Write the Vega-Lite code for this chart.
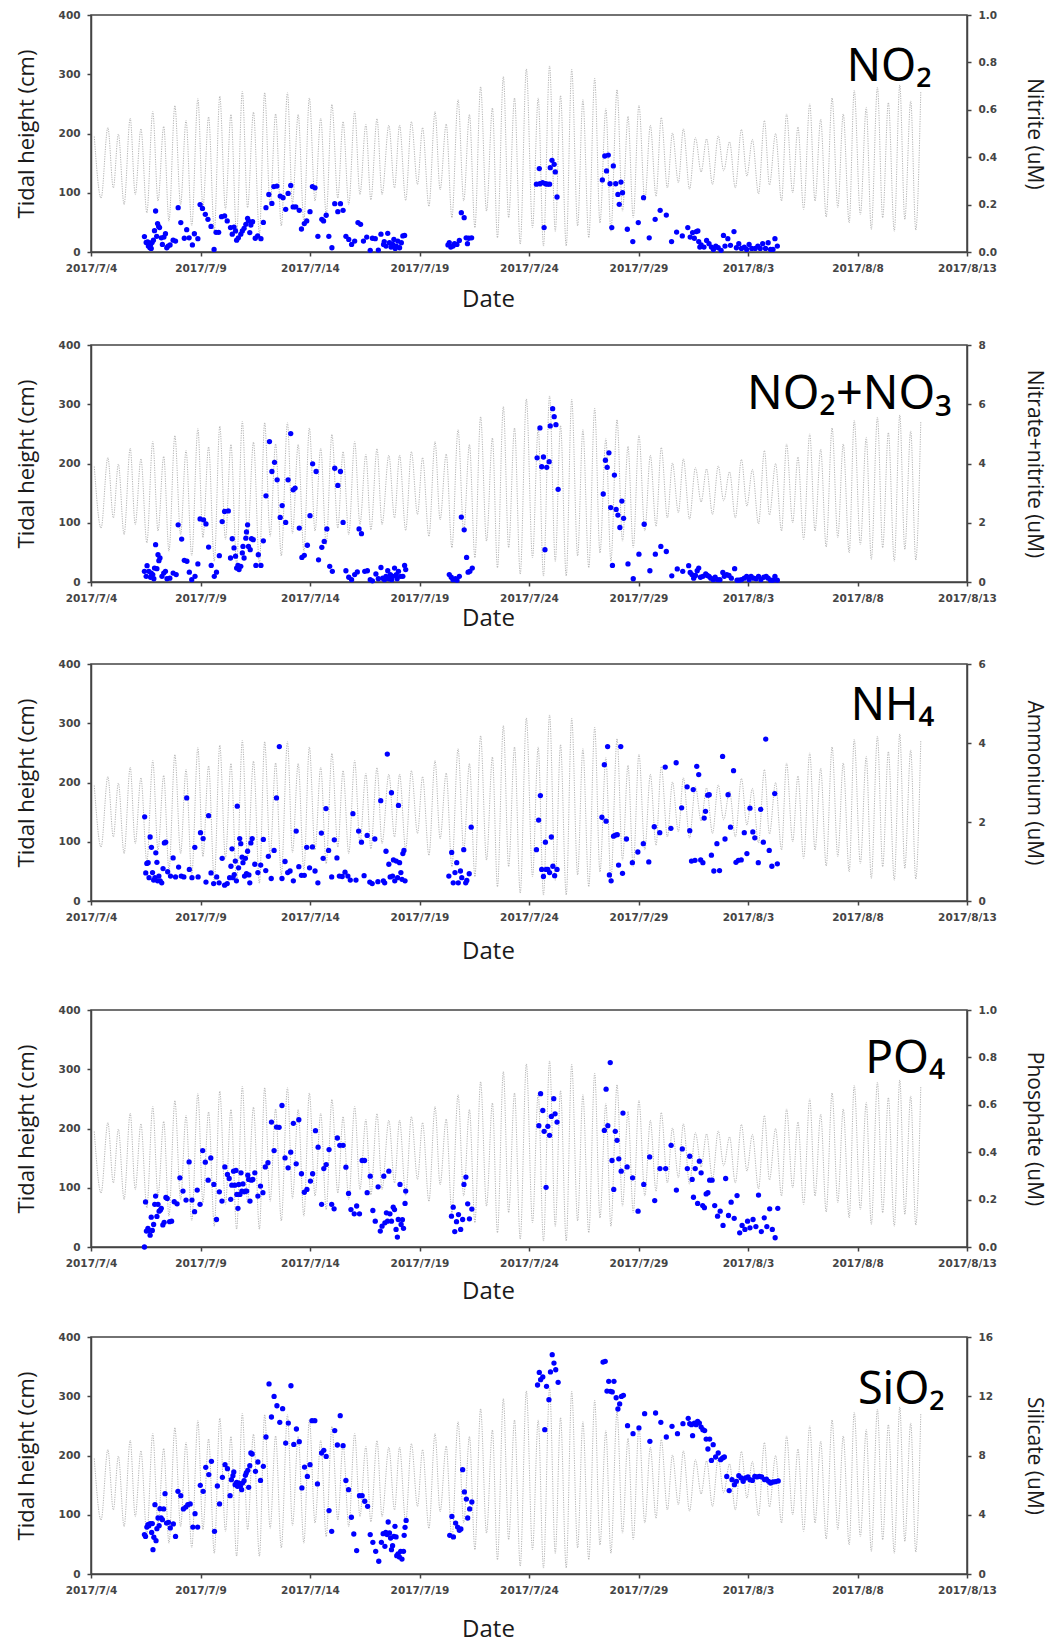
{
"$schema":"https://vega.github.io/schema/vega-lite/v6.json",
"padding":{"left":14,"top":9,"right":10,"bottom":0},
"spacing":27,
"datasets":{
"tide":[{"day":0.15,"height":195},{"day":0.46,"height":91},{"day":0.77,"height":210},{"day":1.02,"height":108},{"day":1.25,"height":199},{"day":1.51,"height":80},{"day":1.79,"height":226},{"day":2.02,"height":97},{"day":2.28,"height":208},{"day":2.55,"height":66},{"day":2.82,"height":237},{"day":3.06,"height":86},{"day":3.32,"height":212},{"day":3.56,"height":52},{"day":3.83,"height":247},{"day":4.09,"height":80},{"day":4.34,"height":222},{"day":4.6,"height":44},{"day":4.88,"height":259},{"day":5.11,"height":75},{"day":5.37,"height":228},{"day":5.63,"height":35},{"day":5.88,"height":263},{"day":6.14,"height":72},{"day":6.39,"height":232},{"day":6.65,"height":30},{"day":6.91,"height":271},{"day":7.15,"height":75},{"day":7.42,"height":236},{"day":7.69,"height":30},{"day":7.93,"height":269},{"day":8.18,"height":77},{"day":8.43,"height":233},{"day":8.69,"height":44},{"day":8.97,"height":269},{"day":9.2,"height":82},{"day":9.46,"height":232},{"day":9.72,"height":52},{"day":9.97,"height":260},{"day":10.23,"height":86},{"day":10.49,"height":226},{"day":10.74,"height":63},{"day":11.0,"height":249},{"day":11.27,"height":91},{"day":11.51,"height":220},{"day":11.77,"height":80},{"day":12.04,"height":237},{"day":12.28,"height":97},{"day":12.55,"height":215},{"day":12.78,"height":88},{"day":13.06,"height":225},{"day":13.29,"height":97},{"day":13.6,"height":214},{"day":13.86,"height":108},{"day":14.09,"height":214},{"day":14.37,"height":87},{"day":14.63,"height":220},{"day":14.91,"height":114},{"day":15.14,"height":210},{"day":15.43,"height":77},{"day":15.71,"height":237},{"day":15.94,"height":105},{"day":16.22,"height":216},{"day":16.48,"height":58},{"day":16.76,"height":257},{"day":17.02,"height":86},{"day":17.28,"height":232},{"day":17.53,"height":41},{"day":17.79,"height":279},{"day":18.06,"height":69},{"day":18.33,"height":243},{"day":18.56,"height":24},{"day":18.83,"height":296},{"day":19.07,"height":58},{"day":19.34,"height":260},{"day":19.6,"height":13},{"day":19.88,"height":309},{"day":20.16,"height":41},{"day":20.42,"height":260},{"day":20.66,"height":10},{"day":20.94,"height":314},{"day":21.2,"height":35},{"day":21.44,"height":264},{"day":21.7,"height":10},{"day":21.95,"height":308},{"day":22.22,"height":44},{"day":22.46,"height":257},{"day":22.73,"height":24},{"day":23.0,"height":293},{"day":23.24,"height":49},{"day":23.51,"height":242},{"day":23.74,"height":35},{"day":24.02,"height":274},{"day":24.27,"height":69},{"day":24.52,"height":229},{"day":24.76,"height":58},{"day":25.02,"height":248},{"day":25.29,"height":86},{"day":25.54,"height":214},{"day":25.8,"height":94},{"day":26.04,"height":227},{"day":26.32,"height":108},{"day":26.55,"height":201},{"day":26.82,"height":117},{"day":27.05,"height":208},{"day":27.33,"height":106},{"day":27.6,"height":193},{"day":27.86,"height":135},{"day":28.11,"height":191},{"day":28.38,"height":114},{"day":28.64,"height":196},{"day":28.89,"height":137},{"day":29.16,"height":186},{"day":29.42,"height":108},{"day":29.7,"height":207},{"day":29.95,"height":128},{"day":30.2,"height":190},{"day":30.48,"height":98},{"day":30.75,"height":222},{"day":30.98,"height":113},{"day":31.26,"height":200},{"day":31.53,"height":86},{"day":31.76,"height":233},{"day":32.04,"height":100},{"day":32.28,"height":211},{"day":32.54,"height":72},{"day":32.82,"height":250},{"day":33.06,"height":86},{"day":33.32,"height":224},{"day":33.57,"height":59},{"day":33.84,"height":260},{"day":34.1,"height":75},{"day":34.35,"height":233},{"day":34.62,"height":49},{"day":34.85,"height":273},{"day":35.13,"height":63},{"day":35.4,"height":244},{"day":35.63,"height":38},{"day":35.91,"height":278},{"day":36.15,"height":58},{"day":36.41,"height":252},{"day":36.68,"height":35},{"day":36.93,"height":282},{"day":37.16,"height":55},{"day":37.43,"height":255},{"day":37.66,"height":37},{"day":37.89,"height":271}],
"no2":[{"day":2.44,"conc":0.065},{"day":2.52,"conc":0.04},{"day":2.59,"conc":0.043},{"day":2.62,"conc":0.025},{"day":2.69,"conc":0.018},{"day":2.72,"conc":0.032},{"day":2.75,"conc":0.015},{"day":2.79,"conc":0.04},{"day":2.85,"conc":0.05},{"day":2.9,"conc":0.09},{"day":2.95,"conc":0.173},{"day":3.0,"conc":0.066},{"day":3.04,"conc":0.12},{"day":3.09,"conc":0.108},{"day":3.13,"conc":0.103},{"day":3.21,"conc":0.06},{"day":3.26,"conc":0.032},{"day":3.33,"conc":0.063},{"day":3.4,"conc":0.077},{"day":3.46,"conc":0.018},{"day":3.52,"conc":0.025},{"day":3.61,"conc":0.03},{"day":3.75,"conc":0.05},{"day":3.86,"conc":0.046},{"day":3.98,"conc":0.187},{"day":4.1,"conc":0.124},{"day":4.26,"conc":0.058},{"day":4.37,"conc":0.094},{"day":4.48,"conc":0.06},{"day":4.63,"conc":0.03},{"day":4.72,"conc":0.077},{"day":4.88,"conc":0.056},{"day":4.98,"conc":0.2},{"day":5.09,"conc":0.184},{"day":5.22,"conc":0.159},{"day":5.34,"conc":0.138},{"day":5.48,"conc":0.108},{"day":5.62,"conc":0.011},{"day":5.71,"conc":0.083},{"day":5.83,"conc":0.083},{"day":5.96,"conc":0.149},{"day":6.1,"conc":0.152},{"day":6.22,"conc":0.131},{"day":6.37,"conc":0.103},{"day":6.45,"conc":0.075},{"day":6.53,"conc":0.105},{"day":6.6,"conc":0.089},{"day":6.65,"conc":0.05},{"day":6.73,"conc":0.06},{"day":6.84,"conc":0.075},{"day":6.91,"conc":0.089},{"day":6.99,"conc":0.1},{"day":7.07,"conc":0.117},{"day":7.15,"conc":0.142},{"day":7.19,"conc":0.131},{"day":7.25,"conc":0.082},{"day":7.3,"conc":0.114},{"day":7.38,"conc":0.128},{"day":7.5,"conc":0.058},{"day":7.61,"conc":0.068},{"day":7.76,"conc":0.056},{"day":7.87,"conc":0.125},{"day":7.99,"conc":0.187},{"day":8.12,"conc":0.243},{"day":8.26,"conc":0.205},{"day":8.35,"conc":0.276},{"day":8.49,"conc":0.278},{"day":8.64,"conc":0.236},{"day":8.77,"conc":0.229},{"day":8.89,"conc":0.18},{"day":9.0,"conc":0.247},{"day":9.12,"conc":0.281},{"day":9.23,"conc":0.19},{"day":9.35,"conc":0.19},{"day":9.51,"conc":0.176},{"day":9.61,"conc":0.097},{"day":9.74,"conc":0.12},{"day":9.85,"conc":0.131},{"day":10.0,"conc":0.17},{"day":10.11,"conc":0.276},{"day":10.23,"conc":0.271},{"day":10.36,"conc":0.066},{"day":10.54,"conc":0.138},{"day":10.62,"conc":0.131},{"day":10.74,"conc":0.155},{"day":10.86,"conc":0.066},{"day":11.0,"conc":0.018},{"day":11.13,"conc":0.204},{"day":11.27,"conc":0.17},{"day":11.39,"conc":0.204},{"day":11.51,"conc":0.176},{"day":11.64,"conc":0.066},{"day":11.77,"conc":0.053},{"day":11.9,"conc":0.032},{"day":12.04,"conc":0.046},{"day":12.19,"conc":0.124},{"day":12.31,"conc":0.117},{"day":12.44,"conc":0.046},{"day":12.59,"conc":0.063},{"day":12.75,"conc":0.007},{"day":12.85,"conc":0.058},{"day":12.98,"conc":0.056},{"day":13.12,"conc":0.008},{"day":13.24,"conc":0.075},{"day":13.36,"conc":0.032},{"day":13.39,"conc":0.044},{"day":13.47,"conc":0.025},{"day":13.55,"conc":0.079},{"day":13.63,"conc":0.039},{"day":13.7,"conc":0.021},{"day":13.78,"conc":0.032},{"day":13.83,"conc":0.053},{"day":13.89,"conc":0.015},{"day":13.94,"conc":0.025},{"day":14.01,"conc":0.046},{"day":14.09,"conc":0.018},{"day":14.17,"conc":0.039},{"day":14.24,"conc":0.068},{"day":14.32,"conc":0.07},{"day":16.3,"conc":0.03},{"day":16.36,"conc":0.039},{"day":16.43,"conc":0.021},{"day":16.53,"conc":0.025},{"day":16.6,"conc":0.035},{"day":16.71,"conc":0.032},{"day":16.82,"conc":0.049},{"day":16.91,"conc":0.166},{"day":17.04,"conc":0.145},{"day":17.13,"conc":0.06},{"day":17.19,"conc":0.035},{"day":17.25,"conc":0.058},{"day":17.38,"conc":0.06},{"day":20.34,"conc":0.286},{"day":20.47,"conc":0.352},{"day":20.5,"conc":0.288},{"day":20.62,"conc":0.293},{"day":20.69,"conc":0.103},{"day":20.75,"conc":0.288},{"day":20.84,"conc":0.286},{"day":20.94,"conc":0.286},{"day":20.97,"conc":0.356},{"day":21.05,"conc":0.387},{"day":21.15,"conc":0.37},{"day":21.2,"conc":0.338},{"day":21.28,"conc":0.232},{"day":23.35,"conc":0.304},{"day":23.46,"conc":0.405},{"day":23.54,"conc":0.342},{"day":23.62,"conc":0.409},{"day":23.7,"conc":0.288},{"day":23.78,"conc":0.103},{"day":23.85,"conc":0.363},{"day":23.96,"conc":0.288},{"day":24.06,"conc":0.243},{"day":24.12,"conc":0.201},{"day":24.2,"conc":0.295},{"day":24.27,"conc":0.25},{"day":24.49,"conc":0.096},{"day":24.74,"conc":0.044},{"day":24.99,"conc":0.124},{"day":25.23,"conc":0.229},{"day":25.49,"conc":0.06},{"day":25.76,"conc":0.138},{"day":25.99,"conc":0.176},{"day":26.27,"conc":0.156},{"day":26.51,"conc":0.044},{"day":26.74,"conc":0.084},{"day":27.0,"conc":0.068},{"day":27.25,"conc":0.103},{"day":27.36,"conc":0.063},{"day":27.47,"conc":0.082},{"day":27.55,"conc":0.058},{"day":27.64,"conc":0.086},{"day":27.71,"conc":0.089},{"day":27.75,"conc":0.044},{"day":27.8,"conc":0.021},{"day":27.86,"conc":0.03},{"day":27.99,"conc":0.021},{"day":28.11,"conc":0.049},{"day":28.22,"conc":0.035},{"day":28.33,"conc":0.021},{"day":28.42,"conc":0.011},{"day":28.53,"conc":0.025},{"day":28.64,"conc":0.018},{"day":28.77,"conc":0.007},{"day":28.88,"conc":0.07},{"day":28.95,"conc":0.025},{"day":29.08,"conc":0.056},{"day":29.2,"conc":0.028},{"day":29.36,"conc":0.086},{"day":29.47,"conc":0.018},{"day":29.58,"conc":0.035},{"day":29.7,"conc":0.015},{"day":29.83,"conc":0.021},{"day":29.94,"conc":0.011},{"day":30.05,"conc":0.032},{"day":30.17,"conc":0.015},{"day":30.33,"conc":0.015},{"day":30.45,"conc":0.025},{"day":30.56,"conc":0.015},{"day":30.67,"conc":0.035},{"day":30.8,"conc":0.015},{"day":30.92,"conc":0.039},{"day":31.03,"conc":0.011},{"day":31.14,"conc":0.011},{"day":31.23,"conc":0.056},{"day":31.34,"conc":0.025}],
"no23":[{"day":2.44,"conc":0.36},{"day":2.52,"conc":0.19},{"day":2.56,"conc":0.55},{"day":2.64,"conc":0.36},{"day":2.72,"conc":0.16},{"day":2.75,"conc":0.3},{"day":2.82,"conc":0.25},{"day":2.87,"conc":0.11},{"day":2.9,"conc":0.47},{"day":2.95,"conc":1.26},{"day":3.01,"conc":0.45},{"day":3.06,"conc":0.92},{"day":3.1,"conc":0.72},{"day":3.15,"conc":0.81},{"day":3.24,"conc":0.19},{"day":3.32,"conc":0.3},{"day":3.4,"conc":0.36},{"day":3.47,"conc":0.11},{"day":3.6,"conc":0.13},{"day":3.75,"conc":0.3},{"day":3.89,"conc":0.25},{"day":3.98,"conc":1.93},{"day":4.14,"conc":1.45},{"day":4.26,"conc":0.73},{"day":4.38,"conc":0.7},{"day":4.49,"conc":0.33},{"day":4.6,"conc":0.08},{"day":4.75,"conc":0.19},{"day":4.88,"conc":0.61},{"day":4.98,"conc":2.13},{"day":5.14,"conc":2.1},{"day":5.25,"conc":1.96},{"day":5.37,"conc":1.18},{"day":5.49,"conc":0.56},{"day":5.63,"conc":0.19},{"day":5.73,"conc":0.33},{"day":5.86,"conc":0.89},{"day":5.99,"conc":2.04},{"day":6.1,"conc":2.38},{"day":6.27,"conc":2.4},{"day":6.37,"conc":0.81},{"day":6.45,"conc":1.46},{"day":6.53,"conc":1.15},{"day":6.6,"conc":0.87},{"day":6.65,"conc":0.47},{"day":6.71,"conc":0.56},{"day":6.76,"conc":0.42},{"day":6.84,"conc":0.53},{"day":6.91,"conc":0.98},{"day":6.94,"conc":1.2},{"day":6.99,"conc":0.81},{"day":7.07,"conc":1.48},{"day":7.1,"conc":1.69},{"day":7.15,"conc":1.93},{"day":7.19,"conc":1.2},{"day":7.27,"conc":1.09},{"day":7.33,"conc":1.46},{"day":7.41,"conc":1.43},{"day":7.53,"conc":0.56},{"day":7.64,"conc":0.92},{"day":7.76,"conc":0.56},{"day":7.87,"conc":1.39},{"day":7.99,"conc":2.91},{"day":8.15,"conc":4.74},{"day":8.26,"conc":3.73},{"day":8.38,"conc":4.04},{"day":8.5,"conc":3.45},{"day":8.64,"conc":2.18},{"day":8.73,"conc":2.58},{"day":8.89,"conc":2.01},{"day":9.0,"conc":3.45},{"day":9.12,"conc":5.01},{"day":9.23,"conc":3.11},{"day":9.32,"conc":3.17},{"day":9.51,"conc":1.82},{"day":9.63,"conc":0.83},{"day":9.74,"conc":0.9},{"day":9.88,"conc":1.24},{"day":10.0,"conc":2.24},{"day":10.12,"conc":3.99},{"day":10.28,"conc":3.73},{"day":10.39,"conc":0.75},{"day":10.54,"conc":1.17},{"day":10.65,"conc":1.37},{"day":10.77,"conc":1.79},{"day":10.9,"conc":0.53},{"day":11.02,"conc":0.36},{"day":11.13,"conc":3.84},{"day":11.27,"conc":3.26},{"day":11.39,"conc":3.73},{"day":11.51,"conc":2.01},{"day":11.64,"conc":0.38},{"day":11.77,"conc":0.16},{"day":11.9,"conc":0.08},{"day":12.04,"conc":0.25},{"day":12.16,"conc":0.34},{"day":12.24,"conc":1.79},{"day":12.35,"conc":1.63},{"day":12.5,"conc":0.36},{"day":12.62,"conc":0.38},{"day":12.75,"conc":0.08},{"day":12.85,"conc":0.04},{"day":13.01,"conc":0.27},{"day":13.12,"conc":0.11},{"day":13.24,"conc":0.49},{"day":13.32,"conc":0.13},{"day":13.4,"conc":0.08},{"day":13.47,"conc":0.19},{"day":13.55,"conc":0.38},{"day":13.6,"conc":0.11},{"day":13.67,"conc":0.25},{"day":13.73,"conc":0.08},{"day":13.78,"conc":0.19},{"day":13.86,"conc":0.47},{"day":13.94,"conc":0.25},{"day":13.98,"conc":0.11},{"day":14.04,"conc":0.36},{"day":14.14,"conc":0.19},{"day":14.24,"conc":0.19},{"day":14.32,"conc":0.56},{"day":14.37,"conc":0.42},{"day":16.36,"conc":0.25},{"day":16.45,"conc":0.16},{"day":16.53,"conc":0.08},{"day":16.64,"conc":0.11},{"day":16.71,"conc":0.06},{"day":16.82,"conc":0.19},{"day":16.91,"conc":2.19},{"day":17.04,"conc":1.76},{"day":17.15,"conc":0.83},{"day":17.22,"conc":0.33},{"day":17.3,"conc":0.36},{"day":17.41,"conc":0.47},{"day":20.37,"conc":4.19},{"day":20.5,"conc":5.2},{"day":20.58,"conc":3.89},{"day":20.66,"conc":4.22},{"day":20.73,"conc":1.09},{"day":20.81,"conc":3.87},{"day":20.92,"conc":4.06},{"day":20.97,"conc":5.27},{"day":21.08,"conc":5.85},{"day":21.15,"conc":5.58},{"day":21.23,"conc":5.31},{"day":21.33,"conc":3.13},{"day":23.39,"conc":2.97},{"day":23.49,"conc":4.11},{"day":23.57,"conc":3.87},{"day":23.65,"conc":4.36},{"day":23.73,"conc":2.51},{"day":23.81,"conc":0.56},{"day":23.9,"conc":3.61},{"day":23.98,"conc":2.45},{"day":24.06,"conc":2.26},{"day":24.15,"conc":1.84},{"day":24.24,"conc":2.73},{"day":24.32,"conc":2.15},{"day":24.52,"conc":0.61},{"day":24.76,"conc":0.11},{"day":25.02,"conc":0.94},{"day":25.26,"conc":1.95},{"day":25.52,"conc":0.38},{"day":25.77,"conc":0.94},{"day":26.02,"conc":1.2},{"day":26.27,"conc":1.03},{"day":26.52,"conc":0.21},{"day":26.77,"conc":0.44},{"day":27.02,"conc":0.36},{"day":27.29,"conc":0.55},{"day":27.36,"conc":0.32},{"day":27.44,"conc":0.25},{"day":27.52,"conc":0.13},{"day":27.6,"conc":0.22},{"day":27.68,"conc":0.38},{"day":27.75,"conc":0.47},{"day":27.83,"conc":0.16},{"day":27.94,"conc":0.19},{"day":28.07,"conc":0.27},{"day":28.14,"conc":0.22},{"day":28.22,"conc":0.19},{"day":28.3,"conc":0.13},{"day":28.41,"conc":0.08},{"day":28.5,"conc":0.16},{"day":28.61,"conc":0.08},{"day":28.72,"conc":0.08},{"day":28.85,"conc":0.32},{"day":28.92,"conc":0.19},{"day":29.03,"conc":0.25},{"day":29.13,"conc":0.22},{"day":29.24,"conc":0.13},{"day":29.39,"conc":0.45},{"day":29.5,"conc":0.06},{"day":29.59,"conc":0.06},{"day":29.7,"conc":0.08},{"day":29.83,"conc":0.13},{"day":29.94,"conc":0.19},{"day":30.05,"conc":0.08},{"day":30.14,"conc":0.19},{"day":30.25,"conc":0.13},{"day":30.37,"conc":0.11},{"day":30.48,"conc":0.19},{"day":30.59,"conc":0.08},{"day":30.72,"conc":0.16},{"day":30.83,"conc":0.19},{"day":30.92,"conc":0.13},{"day":31.03,"conc":0.06},{"day":31.14,"conc":0.06},{"day":31.23,"conc":0.19},{"day":31.34,"conc":0.06}],
"nh4":[{"day":2.45,"conc":2.13},{"day":2.5,"conc":0.71},{"day":2.55,"conc":0.95},{"day":2.61,"conc":0.97},{"day":2.65,"conc":0.59},{"day":2.7,"conc":1.62},{"day":2.76,"conc":1.36},{"day":2.81,"conc":0.72},{"day":2.86,"conc":0.53},{"day":2.92,"conc":0.59},{"day":2.96,"conc":1.22},{"day":3.01,"conc":0.98},{"day":3.04,"conc":0.51},{"day":3.1,"conc":0.63},{"day":3.16,"conc":0.51},{"day":3.23,"conc":0.46},{"day":3.29,"conc":0.82},{"day":3.35,"conc":1.47},{"day":3.41,"conc":1.49},{"day":3.5,"conc":0.74},{"day":3.63,"conc":0.63},{"day":3.75,"conc":1.09},{"day":3.86,"conc":0.61},{"day":4.0,"conc":0.86},{"day":4.12,"conc":0.63},{"day":4.24,"conc":0.61},{"day":4.37,"conc":2.61},{"day":4.49,"conc":0.8},{"day":4.61,"conc":0.59},{"day":4.74,"conc":1.36},{"day":4.89,"conc":0.61},{"day":5.0,"conc":1.73},{"day":5.12,"conc":1.58},{"day":5.25,"conc":0.48},{"day":5.37,"conc":2.16},{"day":5.48,"conc":0.71},{"day":5.6,"conc":0.44},{"day":5.74,"conc":0.61},{"day":5.85,"conc":0.46},{"day":5.99,"conc":1.08},{"day":6.1,"conc":0.4},{"day":6.22,"conc":0.44},{"day":6.33,"conc":0.59},{"day":6.39,"conc":0.88},{"day":6.44,"conc":1.32},{"day":6.48,"conc":0.59},{"day":6.54,"conc":0.67},{"day":6.59,"conc":1.01},{"day":6.64,"conc":0.51},{"day":6.68,"conc":2.4},{"day":6.74,"conc":0.84},{"day":6.79,"conc":1.58},{"day":6.84,"conc":1.45},{"day":6.9,"conc":1.11},{"day":6.94,"conc":0.97},{"day":7.01,"conc":0.63},{"day":7.05,"conc":1.08},{"day":7.1,"conc":0.69},{"day":7.15,"conc":1.26},{"day":7.21,"conc":0.66},{"day":7.25,"conc":0.46},{"day":7.3,"conc":1.47},{"day":7.36,"conc":1.58},{"day":7.48,"conc":0.93},{"day":7.62,"conc":0.72},{"day":7.75,"conc":0.91},{"day":7.87,"conc":1.56},{"day":7.98,"conc":0.77},{"day":8.1,"conc":1.13},{"day":8.23,"conc":0.57},{"day":8.36,"conc":1.28},{"day":8.47,"conc":2.61},{"day":8.6,"conc":3.91},{"day":8.72,"conc":0.57},{"day":8.86,"conc":1.0},{"day":8.98,"conc":0.72},{"day":9.09,"conc":0.76},{"day":9.24,"conc":0.51},{"day":9.37,"conc":1.77},{"day":9.49,"conc":0.87},{"day":9.61,"conc":0.65},{"day":9.74,"conc":0.65},{"day":9.85,"conc":1.36},{"day":9.98,"conc":0.84},{"day":10.11,"conc":1.37},{"day":10.23,"conc":0.76},{"day":10.36,"conc":0.46},{"day":10.52,"conc":1.72},{"day":10.6,"conc":1.08},{"day":10.73,"conc":2.34},{"day":10.85,"conc":1.28},{"day":10.99,"conc":0.61},{"day":11.11,"conc":1.55},{"day":11.23,"conc":1.09},{"day":11.34,"conc":0.63},{"day":11.47,"conc":0.62},{"day":11.6,"conc":0.73},{"day":11.73,"conc":0.63},{"day":11.84,"conc":0.53},{"day":11.96,"conc":2.21},{"day":12.1,"conc":0.53},{"day":12.22,"conc":1.77},{"day":12.35,"conc":1.49},{"day":12.47,"conc":0.64},{"day":12.61,"conc":1.66},{"day":12.73,"conc":0.48},{"day":12.84,"conc":0.44},{"day":12.96,"conc":1.57},{"day":13.1,"conc":0.49},{"day":13.23,"conc":2.54},{"day":13.35,"conc":0.51},{"day":13.41,"conc":0.46},{"day":13.47,"conc":1.26},{"day":13.53,"conc":3.72},{"day":13.6,"conc":0.93},{"day":13.66,"conc":0.61},{"day":13.72,"conc":2.74},{"day":13.77,"conc":0.63},{"day":13.81,"conc":1.04},{"day":13.87,"conc":0.51},{"day":13.94,"conc":1.01},{"day":14.0,"conc":0.59},{"day":14.04,"conc":2.42},{"day":14.09,"conc":0.97},{"day":14.15,"conc":0.72},{"day":14.2,"conc":0.55},{"day":14.24,"conc":1.2},{"day":14.29,"conc":1.28},{"day":14.34,"conc":0.51},{"day":16.34,"conc":0.63},{"day":16.47,"conc":1.23},{"day":16.54,"conc":0.46},{"day":16.62,"conc":0.72},{"day":16.7,"conc":0.97},{"day":16.77,"conc":0.46},{"day":16.87,"conc":0.76},{"day":16.93,"conc":0.59},{"day":17.02,"conc":1.3},{"day":17.11,"conc":0.46},{"day":17.16,"conc":0.52},{"day":17.27,"conc":0.69},{"day":17.36,"conc":1.87},{"day":20.34,"conc":1.3},{"day":20.44,"conc":2.05},{"day":20.52,"conc":2.67},{"day":20.58,"conc":0.8},{"day":20.66,"conc":0.62},{"day":20.75,"conc":1.49},{"day":20.78,"conc":0.8},{"day":20.86,"conc":0.8},{"day":20.94,"conc":0.72},{"day":21.02,"conc":1.62},{"day":21.09,"conc":0.88},{"day":21.17,"conc":0.64},{"day":21.28,"conc":0.8},{"day":23.33,"conc":2.12},{"day":23.44,"conc":3.45},{"day":23.52,"conc":2.02},{"day":23.59,"conc":3.91},{"day":23.67,"conc":0.66},{"day":23.75,"conc":0.51},{"day":23.86,"conc":1.64},{"day":23.95,"conc":1.67},{"day":24.03,"conc":1.68},{"day":24.09,"conc":0.91},{"day":24.19,"conc":3.91},{"day":24.27,"conc":0.7},{"day":24.45,"conc":1.57},{"day":24.72,"conc":0.97},{"day":24.97,"conc":1.24},{"day":25.22,"conc":1.45},{"day":25.47,"conc":0.99},{"day":25.72,"conc":1.88},{"day":25.97,"conc":1.73},{"day":26.22,"conc":3.39},{"day":26.48,"conc":1.84},{"day":26.72,"conc":3.5},{"day":26.97,"conc":2.36},{"day":27.22,"conc":2.89},{"day":27.34,"conc":1.78},{"day":27.42,"conc":1.01},{"day":27.5,"conc":2.82},{"day":27.58,"conc":1.03},{"day":27.66,"conc":3.41},{"day":27.75,"conc":3.2},{"day":27.84,"conc":1.04},{"day":27.94,"conc":0.97},{"day":28.0,"conc":2.1},{"day":28.06,"conc":2.27},{"day":28.16,"conc":2.68},{"day":28.23,"conc":2.69},{"day":28.33,"conc":1.16},{"day":28.44,"conc":0.76},{"day":28.58,"conc":1.45},{"day":28.7,"conc":0.77},{"day":28.84,"conc":3.66},{"day":28.95,"conc":1.57},{"day":29.09,"conc":2.69},{"day":29.2,"conc":1.87},{"day":29.34,"conc":3.3},{"day":29.45,"conc":0.98},{"day":29.56,"conc":1.03},{"day":29.69,"conc":1.04},{"day":29.83,"conc":1.73},{"day":29.95,"conc":1.2},{"day":30.09,"conc":2.35},{"day":30.22,"conc":1.75},{"day":30.31,"conc":1.6},{"day":30.47,"conc":0.97},{"day":30.58,"conc":2.32},{"day":30.7,"conc":1.49},{"day":30.81,"conc":4.1},{"day":30.97,"conc":1.28},{"day":31.09,"conc":0.88},{"day":31.22,"conc":2.72},{"day":31.34,"conc":0.94}],
"po4":[{"day":2.44,"conc":0.0},{"day":2.49,"conc":0.19},{"day":2.53,"conc":0.067},{"day":2.6,"conc":0.079},{"day":2.64,"conc":0.07},{"day":2.7,"conc":0.05},{"day":2.75,"conc":0.126},{"day":2.8,"conc":0.07},{"day":2.86,"conc":0.095},{"day":2.91,"conc":0.18},{"day":2.95,"conc":0.215},{"day":3.01,"conc":0.129},{"day":3.06,"conc":0.18},{"day":3.11,"conc":0.151},{"day":3.17,"conc":0.156},{"day":3.21,"conc":0.163},{"day":3.28,"conc":0.093},{"day":3.34,"conc":0.104},{"day":3.42,"conc":0.209},{"day":3.48,"conc":0.205},{"day":3.59,"conc":0.107},{"day":3.68,"conc":0.109},{"day":3.8,"conc":0.191},{"day":3.93,"conc":0.182},{"day":4.06,"conc":0.292},{"day":4.2,"conc":0.236},{"day":4.34,"conc":0.198},{"day":4.48,"conc":0.359},{"day":4.61,"conc":0.198},{"day":4.73,"conc":0.149},{"day":4.85,"conc":0.24},{"day":4.98,"conc":0.18},{"day":5.1,"conc":0.407},{"day":5.22,"conc":0.358},{"day":5.35,"conc":0.282},{"day":5.47,"conc":0.376},{"day":5.61,"conc":0.264},{"day":5.73,"conc":0.116},{"day":5.86,"conc":0.233},{"day":5.98,"conc":0.194},{"day":6.11,"conc":0.338},{"day":6.23,"conc":0.306},{"day":6.31,"conc":0.289},{"day":6.38,"conc":0.201},{"day":6.43,"conc":0.261},{"day":6.51,"conc":0.32},{"day":6.57,"conc":0.261},{"day":6.62,"conc":0.323},{"day":6.66,"conc":0.222},{"day":6.71,"conc":0.163},{"day":6.75,"conc":0.264},{"day":6.8,"conc":0.222},{"day":6.85,"conc":0.313},{"day":6.89,"conc":0.236},{"day":6.94,"conc":0.266},{"day":7.0,"conc":0.233},{"day":7.05,"conc":0.236},{"day":7.11,"conc":0.236},{"day":7.16,"conc":0.303},{"day":7.2,"conc":0.285},{"day":7.26,"conc":0.194},{"day":7.33,"conc":0.282},{"day":7.39,"conc":0.285},{"day":7.48,"conc":0.313},{"day":7.62,"conc":0.215},{"day":7.74,"conc":0.257},{"day":7.85,"conc":0.229},{"day":7.96,"conc":0.338},{"day":8.08,"conc":0.356},{"day":8.24,"conc":0.527},{"day":8.36,"conc":0.407},{"day":8.47,"conc":0.506},{"day":8.59,"conc":0.505},{"day":8.72,"conc":0.597},{"day":8.86,"conc":0.376},{"day":9.0,"conc":0.334},{"day":9.12,"conc":0.4},{"day":9.24,"conc":0.522},{"day":9.37,"conc":0.351},{"day":9.49,"conc":0.537},{"day":9.61,"conc":0.309},{"day":9.74,"conc":0.231},{"day":9.86,"conc":0.243},{"day":10.02,"conc":0.278},{"day":10.12,"conc":0.309},{"day":10.25,"conc":0.491},{"day":10.37,"conc":0.421},{"day":10.53,"conc":0.18},{"day":10.63,"conc":0.331},{"day":10.74,"conc":0.348},{"day":10.87,"conc":0.411},{"day":10.99,"conc":0.18},{"day":11.1,"conc":0.161},{"day":11.25,"conc":0.46},{"day":11.36,"conc":0.429},{"day":11.51,"conc":0.429},{"day":11.64,"conc":0.337},{"day":11.76,"conc":0.226},{"day":11.87,"conc":0.158},{"day":12.02,"conc":0.14},{"day":12.13,"conc":0.173},{"day":12.26,"conc":0.14},{"day":12.38,"conc":0.365},{"day":12.49,"conc":0.365},{"day":12.61,"conc":0.229},{"day":12.75,"conc":0.299},{"day":12.87,"conc":0.154},{"day":12.98,"conc":0.109},{"day":13.11,"conc":0.254},{"day":13.21,"conc":0.067},{"day":13.29,"conc":0.088},{"day":13.37,"conc":0.299},{"day":13.42,"conc":0.102},{"day":13.49,"conc":0.144},{"day":13.54,"conc":0.109},{"day":13.6,"conc":0.32},{"day":13.65,"conc":0.14},{"day":13.72,"conc":0.109},{"day":13.8,"conc":0.168},{"day":13.86,"conc":0.158},{"day":13.93,"conc":0.074},{"day":13.99,"conc":0.042},{"day":14.03,"conc":0.116},{"day":14.11,"conc":0.264},{"day":14.16,"conc":0.095},{"day":14.22,"conc":0.115},{"day":14.27,"conc":0.079},{"day":14.34,"conc":0.184},{"day":14.37,"conc":0.236},{"day":16.46,"conc":0.13},{"day":16.54,"conc":0.168},{"day":16.61,"conc":0.065},{"day":16.69,"conc":0.107},{"day":16.78,"conc":0.137},{"day":16.88,"conc":0.074},{"day":16.97,"conc":0.116},{"day":17.03,"conc":0.264},{"day":17.12,"conc":0.295},{"day":17.2,"conc":0.182},{"day":17.28,"conc":0.119},{"day":17.39,"conc":0.16},{"day":20.45,"conc":0.512},{"day":20.53,"conc":0.647},{"day":20.63,"conc":0.576},{"day":20.69,"conc":0.488},{"day":20.78,"conc":0.252},{"day":20.86,"conc":0.509},{"day":20.94,"conc":0.471},{"day":21.02,"conc":0.551},{"day":21.13,"conc":0.626},{"day":21.19,"conc":0.562},{"day":21.28,"conc":0.527},{"day":23.44,"conc":0.492},{"day":23.52,"conc":0.666},{"day":23.6,"conc":0.512},{"day":23.71,"conc":0.778},{"day":23.79,"conc":0.365},{"day":23.87,"conc":0.243},{"day":23.94,"conc":0.488},{"day":24.02,"conc":0.45},{"day":24.1,"conc":0.372},{"day":24.21,"conc":0.32},{"day":24.29,"conc":0.565},{"day":24.48,"conc":0.338},{"day":24.73,"conc":0.292},{"day":24.98,"conc":0.151},{"day":25.24,"conc":0.264},{"day":25.51,"conc":0.38},{"day":25.74,"conc":0.196},{"day":25.98,"conc":0.331},{"day":26.24,"conc":0.331},{"day":26.49,"conc":0.429},{"day":26.73,"conc":0.24},{"day":27.0,"conc":0.414},{"day":27.23,"conc":0.331},{"day":27.34,"conc":0.383},{"day":27.45,"conc":0.285},{"day":27.51,"conc":0.21},{"day":27.59,"conc":0.331},{"day":27.7,"conc":0.184},{"day":27.78,"conc":0.362},{"day":27.86,"conc":0.313},{"day":27.93,"conc":0.175},{"day":28.01,"conc":0.166},{"day":28.09,"conc":0.224},{"day":28.17,"conc":0.229},{"day":28.25,"conc":0.282},{"day":28.36,"conc":0.282},{"day":28.48,"conc":0.175},{"day":28.61,"conc":0.13},{"day":28.73,"conc":0.151},{"day":28.86,"conc":0.091},{"day":28.98,"conc":0.289},{"day":29.11,"conc":0.133},{"day":29.23,"conc":0.189},{"day":29.37,"conc":0.121},{"day":29.5,"conc":0.217},{"day":29.62,"conc":0.06},{"day":29.73,"conc":0.091},{"day":29.86,"conc":0.074},{"day":29.98,"conc":0.109},{"day":30.09,"conc":0.081},{"day":30.23,"conc":0.116},{"day":30.36,"conc":0.086},{"day":30.48,"conc":0.219},{"day":30.61,"conc":0.065},{"day":30.74,"conc":0.123},{"day":30.86,"conc":0.086},{"day":30.99,"conc":0.161},{"day":31.11,"conc":0.074},{"day":31.24,"conc":0.039},{"day":31.36,"conc":0.163}],
"sio2":[{"day":2.44,"conc":2.66},{"day":2.49,"conc":2.54},{"day":2.55,"conc":3.17},{"day":2.6,"conc":3.33},{"day":2.64,"conc":3.26},{"day":2.7,"conc":3.4},{"day":2.77,"conc":2.81},{"day":2.8,"conc":3.4},{"day":2.83,"conc":1.64},{"day":2.87,"conc":2.48},{"day":2.92,"conc":4.68},{"day":2.97,"conc":2.25},{"day":3.01,"conc":3.06},{"day":3.06,"conc":3.78},{"day":3.11,"conc":3.26},{"day":3.15,"conc":4.41},{"day":3.2,"conc":3.78},{"day":3.26,"conc":3.67},{"day":3.32,"conc":4.39},{"day":3.38,"conc":5.42},{"day":3.45,"conc":3.44},{"day":3.54,"conc":3.49},{"day":3.62,"conc":3.11},{"day":3.76,"conc":3.38},{"day":3.86,"conc":2.54},{"day":3.97,"conc":5.58},{"day":4.1,"conc":5.29},{"day":4.22,"conc":4.39},{"day":4.33,"conc":4.52},{"day":4.42,"conc":4.68},{"day":4.53,"conc":4.73},{"day":4.65,"conc":3.17},{"day":4.75,"conc":4.07},{"day":4.87,"conc":3.17},{"day":4.99,"conc":5.99},{"day":5.12,"conc":5.58},{"day":5.24,"conc":7.2},{"day":5.38,"conc":6.71},{"day":5.5,"conc":7.61},{"day":5.64,"conc":2.88},{"day":5.77,"conc":5.94},{"day":5.87,"conc":4.73},{"day":6.0,"conc":6.53},{"day":6.12,"conc":7.38},{"day":6.23,"conc":7.11},{"day":6.35,"conc":5.29},{"day":6.41,"conc":6.37},{"day":6.48,"conc":6.64},{"day":6.52,"conc":6.89},{"day":6.58,"conc":6.03},{"day":6.65,"conc":6.19},{"day":6.69,"conc":5.92},{"day":6.75,"conc":6.14},{"day":6.82,"conc":5.92},{"day":6.88,"conc":5.69},{"day":6.92,"conc":6.14},{"day":6.99,"conc":6.3},{"day":7.05,"conc":6.66},{"day":7.09,"conc":6.82},{"day":7.16,"conc":7.0},{"day":7.2,"conc":5.85},{"day":7.25,"conc":7.31},{"day":7.3,"conc":8.17},{"day":7.36,"conc":8.1},{"day":7.51,"conc":6.93},{"day":7.62,"conc":7.56},{"day":7.74,"conc":6.32},{"day":7.87,"conc":7.27},{"day":7.99,"conc":9.25},{"day":8.13,"conc":12.83},{"day":8.24,"conc":10.6},{"day":8.36,"conc":11.99},{"day":8.49,"conc":11.36},{"day":8.62,"conc":10.24},{"day":8.75,"conc":11.16},{"day":8.89,"conc":8.84},{"day":9.01,"conc":10.19},{"day":9.13,"conc":12.71},{"day":9.26,"conc":8.75},{"day":9.38,"conc":9.79},{"day":9.51,"conc":8.93},{"day":9.63,"conc":5.81},{"day":9.75,"conc":7.22},{"day":9.88,"conc":6.59},{"day":10.0,"conc":7.38},{"day":10.09,"conc":10.35},{"day":10.22,"conc":10.35},{"day":10.34,"conc":6.08},{"day":10.53,"conc":8.17},{"day":10.63,"conc":8.35},{"day":10.74,"conc":7.94},{"day":10.87,"conc":4.28},{"day":10.99,"conc":2.88},{"day":11.13,"conc":9.68},{"day":11.25,"conc":8.71},{"day":11.38,"conc":10.69},{"day":11.51,"conc":8.66},{"day":11.64,"conc":6.32},{"day":11.76,"conc":5.69},{"day":11.89,"conc":3.83},{"day":12.0,"conc":2.7},{"day":12.13,"conc":1.58},{"day":12.26,"conc":5.29},{"day":12.38,"conc":5.29},{"day":12.5,"conc":4.91},{"day":12.63,"conc":4.57},{"day":12.75,"conc":2.66},{"day":12.87,"conc":2.14},{"day":13.0,"conc":1.53},{"day":13.14,"conc":0.86},{"day":13.26,"conc":2.14},{"day":13.34,"conc":2.72},{"day":13.42,"conc":1.87},{"day":13.46,"conc":2.81},{"day":13.52,"conc":2.66},{"day":13.57,"conc":3.51},{"day":13.63,"conc":2.77},{"day":13.68,"conc":2.43},{"day":13.72,"conc":1.64},{"day":13.77,"conc":1.91},{"day":13.83,"conc":2.54},{"day":13.88,"conc":3.22},{"day":13.93,"conc":2.5},{"day":13.96,"conc":1.24},{"day":14.02,"conc":1.35},{"day":14.08,"conc":1.15},{"day":14.14,"conc":1.53},{"day":14.2,"conc":1.01},{"day":14.27,"conc":1.53},{"day":14.3,"conc":2.61},{"day":14.34,"conc":3.15},{"day":14.39,"conc":3.62},{"day":16.38,"conc":2.61},{"day":16.48,"conc":3.89},{"day":16.55,"conc":2.5},{"day":16.65,"conc":3.44},{"day":16.74,"conc":3.17},{"day":16.82,"conc":2.95},{"day":16.89,"conc":3.04},{"day":16.97,"conc":7.04},{"day":17.05,"conc":5.54},{"day":17.14,"conc":5.06},{"day":17.2,"conc":3.78},{"day":17.29,"conc":4.39},{"day":17.39,"conc":4.86},{"day":20.39,"conc":12.76},{"day":20.47,"conc":13.61},{"day":20.53,"conc":13.12},{"day":20.63,"conc":13.3},{"day":20.72,"conc":9.74},{"day":20.8,"conc":12.67},{"day":20.91,"conc":11.77},{"day":20.98,"conc":13.64},{"day":21.06,"conc":14.81},{"day":21.14,"conc":14.24},{"day":21.22,"conc":13.79},{"day":21.33,"conc":12.94},{"day":23.38,"conc":14.31},{"day":23.48,"conc":14.36},{"day":23.56,"conc":12.35},{"day":23.64,"conc":13.01},{"day":23.72,"conc":12.33},{"day":23.8,"conc":12.29},{"day":23.88,"conc":13.01},{"day":23.98,"conc":11.9},{"day":24.06,"conc":11.14},{"day":24.14,"conc":11.48},{"day":24.22,"conc":11.99},{"day":24.31,"conc":12.06},{"day":24.5,"conc":10.01},{"day":24.75,"conc":9.47},{"day":25.02,"conc":9.86},{"day":25.28,"conc":10.82},{"day":25.52,"conc":8.96},{"day":25.78,"conc":10.87},{"day":26.02,"conc":10.24},{"day":26.27,"conc":9.25},{"day":26.53,"conc":9.97},{"day":26.78,"conc":9.47},{"day":27.03,"conc":10.15},{"day":27.27,"conc":10.51},{"day":27.34,"conc":10.15},{"day":27.42,"conc":10.08},{"day":27.47,"conc":9.34},{"day":27.55,"conc":10.19},{"day":27.63,"conc":10.08},{"day":27.7,"conc":10.31},{"day":27.78,"conc":10.19},{"day":27.86,"conc":9.92},{"day":27.94,"conc":9.74},{"day":28.02,"conc":9.68},{"day":28.09,"conc":9.11},{"day":28.17,"conc":8.44},{"day":28.25,"conc":9.11},{"day":28.33,"conc":7.67},{"day":28.41,"conc":8.73},{"day":28.52,"conc":7.9},{"day":28.64,"conc":8.17},{"day":28.75,"conc":7.72},{"day":28.84,"conc":7.83},{"day":28.92,"conc":7.9},{"day":29.03,"conc":6.59},{"day":29.14,"conc":5.63},{"day":29.27,"conc":6.37},{"day":29.38,"conc":6.03},{"day":29.47,"conc":6.26},{"day":29.58,"conc":6.64},{"day":29.69,"conc":6.48},{"day":29.78,"conc":6.26},{"day":29.89,"conc":6.48},{"day":30.0,"conc":6.55},{"day":30.09,"conc":6.37},{"day":30.2,"conc":6.32},{"day":30.31,"conc":6.59},{"day":30.41,"conc":6.55},{"day":30.52,"conc":6.59},{"day":30.63,"conc":6.55},{"day":30.75,"conc":6.37},{"day":30.84,"conc":6.41},{"day":30.94,"conc":6.26},{"day":31.03,"conc":6.14},{"day":31.14,"conc":6.21},{"day":31.25,"conc":6.23},{"day":31.38,"conc":6.28}]
},
"vconcat":[
{"width":876,"height":237,
 "layer":[
  {"data":{"name":"tide"},"mark":{"type":"line","interpolate":"monotone","color":"#b4b4b4","strokeWidth":1,"strokeDash":[1.2,1.2]},
   "encoding":{"x":{"field":"day","type":"quantitative","scale":{"domain":[0,40],"nice":false},"axis":{"values":[0,5,10,15,20,25,30,35,40],"labelExpr":"timeFormat(datetime(2017,6,4+datum.value),'%Y/%-m/%-d')","labelFlush":false,"title":"Date","titleX":397,"titleY":47,"titleBaseline":"middle","titleFontSize":24}},
     "y":{"field":"height","type":"quantitative","scale":{"domain":[0,400],"nice":false},"axis":{"values":[0,100,200,300,400],"title":"Tidal height (cm)","titleAngle":270,"titleX":-65,"titleY":118.5,"titleBaseline":"middle","titleAlign":"center","titleFontSize":22}}}},
  {"data":{"name":"no2"},"mark":{"type":"circle","color":"#0000ff","opacity":1,"size":28},
   "encoding":{"x":{"field":"day","type":"quantitative"},
     "y":{"field":"conc","type":"quantitative","scale":{"domain":[0,1],"nice":false},"axis":{"orient":"right","values":[0,0.2,0.4,0.6,0.8,1],"format":".1f","title":"Nitrite (uM)","titleAngle":90,"titleX":66,"titleY":118.5,"titleBaseline":"middle","titleAlign":"center","titleFontSize":21}}}},
  {"data":{"values":[{}]},"mark":{"type":"text","text":"NO₂","align":"right","baseline":"alphabetic","font":"Noto Sans","fontSize":45,"color":"#000000"},
   "encoding":{"x":{"datum":38.4},"y":{"datum":288,"scale":{"domain":[0,400],"nice":false},"axis":null}}}
 ],
 "resolve":{"scale":{"y":"independent"}}},
{"width":876,"height":237,
 "layer":[
  {"data":{"name":"tide"},"mark":{"type":"line","interpolate":"monotone","color":"#b4b4b4","strokeWidth":1,"strokeDash":[1.2,1.2]},
   "encoding":{"x":{"field":"day","type":"quantitative","scale":{"domain":[0,40],"nice":false},"axis":{"values":[0,5,10,15,20,25,30,35,40],"labelExpr":"timeFormat(datetime(2017,6,4+datum.value),'%Y/%-m/%-d')","labelFlush":false,"title":"Date","titleX":397,"titleY":36,"titleBaseline":"middle","titleFontSize":24}},
     "y":{"field":"height","type":"quantitative","scale":{"domain":[0,400],"nice":false},"axis":{"values":[0,100,200,300,400],"title":"Tidal height (cm)","titleAngle":270,"titleX":-65,"titleY":118.5,"titleBaseline":"middle","titleAlign":"center","titleFontSize":22}}}},
  {"data":{"name":"no23"},"mark":{"type":"circle","color":"#0000ff","opacity":1,"size":28},
   "encoding":{"x":{"field":"day","type":"quantitative"},
     "y":{"field":"conc","type":"quantitative","scale":{"domain":[0,8],"nice":false},"axis":{"orient":"right","values":[0,2,4,6,8],"title":"Nitrate+nitrite (uM)","titleAngle":90,"titleX":66,"titleY":118.5,"titleBaseline":"middle","titleAlign":"center","titleFontSize":21}}}},
  {"data":{"values":[{}]},"mark":{"type":"text","text":"NO₂+NO₃","align":"right","baseline":"alphabetic","font":"Noto Sans","fontSize":47,"color":"#000000"},
   "encoding":{"x":{"datum":39.3},"y":{"datum":292,"scale":{"domain":[0,400],"nice":false},"axis":null}}}
 ],
 "resolve":{"scale":{"y":"independent"}}},
{"width":876,"height":237,
 "layer":[
  {"data":{"name":"tide"},"mark":{"type":"line","interpolate":"monotone","color":"#b4b4b4","strokeWidth":1,"strokeDash":[1.2,1.2]},
   "encoding":{"x":{"field":"day","type":"quantitative","scale":{"domain":[0,40],"nice":false},"axis":{"values":[0,5,10,15,20,25,30,35,40],"labelExpr":"timeFormat(datetime(2017,6,4+datum.value),'%Y/%-m/%-d')","labelFlush":false,"title":"Date","titleX":397,"titleY":50,"titleBaseline":"middle","titleFontSize":24}},
     "y":{"field":"height","type":"quantitative","scale":{"domain":[0,400],"nice":false},"axis":{"values":[0,100,200,300,400],"title":"Tidal height (cm)","titleAngle":270,"titleX":-65,"titleY":118.5,"titleBaseline":"middle","titleAlign":"center","titleFontSize":22}}}},
  {"data":{"name":"nh4"},"mark":{"type":"circle","color":"#0000ff","opacity":1,"size":28},
   "encoding":{"x":{"field":"day","type":"quantitative"},
     "y":{"field":"conc","type":"quantitative","scale":{"domain":[0,6],"nice":false},"axis":{"orient":"right","values":[0,2,4,6],"title":"Ammonium (uM)","titleAngle":90,"titleX":66,"titleY":118.5,"titleBaseline":"middle","titleAlign":"center","titleFontSize":21}}}},
  {"data":{"values":[{}]},"mark":{"type":"text","text":"NH₄","align":"right","baseline":"alphabetic","font":"Noto Sans","fontSize":45,"color":"#000000"},
   "encoding":{"x":{"datum":38.5},"y":{"datum":305,"scale":{"domain":[0,400],"nice":false},"axis":null}}}
 ],
 "resolve":{"scale":{"y":"independent"}}},
{"width":876,"height":237,
 "title":{"text":".","fontSize":4,"offset":9,"color":"#ffffff"},
 "layer":[
  {"data":{"name":"tide"},"mark":{"type":"line","interpolate":"monotone","color":"#b4b4b4","strokeWidth":1,"strokeDash":[1.2,1.2]},
   "encoding":{"x":{"field":"day","type":"quantitative","scale":{"domain":[0,40],"nice":false},"axis":{"values":[0,5,10,15,20,25,30,35,40],"labelExpr":"timeFormat(datetime(2017,6,4+datum.value),'%Y/%-m/%-d')","labelFlush":false,"title":"Date","titleX":397,"titleY":44,"titleBaseline":"middle","titleFontSize":24}},
     "y":{"field":"height","type":"quantitative","scale":{"domain":[0,400],"nice":false},"axis":{"values":[0,100,200,300,400],"title":"Tidal height (cm)","titleAngle":270,"titleX":-65,"titleY":118.5,"titleBaseline":"middle","titleAlign":"center","titleFontSize":22}}}},
  {"data":{"name":"po4"},"mark":{"type":"circle","color":"#0000ff","opacity":1,"size":28},
   "encoding":{"x":{"field":"day","type":"quantitative"},
     "y":{"field":"conc","type":"quantitative","scale":{"domain":[0,1],"nice":false},"axis":{"orient":"right","values":[0,0.2,0.4,0.6,0.8,1],"format":".1f","title":"Phosphate (uM)","titleAngle":90,"titleX":66,"titleY":118.5,"titleBaseline":"middle","titleAlign":"center","titleFontSize":21}}}},
  {"data":{"values":[{}]},"mark":{"type":"text","text":"PO₄","align":"right","baseline":"alphabetic","font":"Noto Sans","fontSize":46,"color":"#000000"},
   "encoding":{"x":{"datum":39.0},"y":{"datum":294,"scale":{"domain":[0,400],"nice":false},"axis":null}}}
 ],
 "resolve":{"scale":{"y":"independent"}}},
{"width":876,"height":237,
 "layer":[
  {"data":{"name":"tide"},"mark":{"type":"line","interpolate":"monotone","color":"#b4b4b4","strokeWidth":1,"strokeDash":[1.2,1.2]},
   "encoding":{"x":{"field":"day","type":"quantitative","scale":{"domain":[0,40],"nice":false},"axis":{"values":[0,5,10,15,20,25,30,35,40],"labelExpr":"timeFormat(datetime(2017,6,4+datum.value),'%Y/%-m/%-d')","labelFlush":false,"title":"Date","titleX":397,"titleY":55,"titleBaseline":"middle","titleFontSize":24}},
     "y":{"field":"height","type":"quantitative","scale":{"domain":[0,400],"nice":false},"axis":{"values":[0,100,200,300,400],"title":"Tidal height (cm)","titleAngle":270,"titleX":-65,"titleY":118.5,"titleBaseline":"middle","titleAlign":"center","titleFontSize":22}}}},
  {"data":{"name":"sio2"},"mark":{"type":"circle","color":"#0000ff","opacity":1,"size":28},
   "encoding":{"x":{"field":"day","type":"quantitative"},
     "y":{"field":"conc","type":"quantitative","scale":{"domain":[0,16],"nice":false},"axis":{"orient":"right","values":[0,4,8,12,16],"title":"Silicate (uM)","titleAngle":90,"titleX":66,"titleY":118.5,"titleBaseline":"middle","titleAlign":"center","titleFontSize":21}}}},
  {"data":{"values":[{}]},"mark":{"type":"text","text":"SiO₂","align":"right","baseline":"alphabetic","font":"Noto Sans","fontSize":45,"color":"#000000"},
   "encoding":{"x":{"datum":39.0},"y":{"datum":287,"scale":{"domain":[0,400],"nice":false},"axis":null}}}
 ],
 "resolve":{"scale":{"y":"independent"}}}
],
"config":{
 "font":"Open Sans",
 "view":{"stroke":"#444444","strokeWidth":1.5},
 "axis":{"grid":false,"domainColor":"#444444","domainWidth":1.5,"tickColor":"#444444","tickWidth":1.5,"tickSize":4,"labelFont":"DejaVu Sans","labelFontWeight":"bold","labelFontSize":10.5,"labelColor":"#444444","labelPadding":7,"titleFont":"Open Sans","titleFontWeight":"normal","titleColor":"#1a1a1a"}
}
}
